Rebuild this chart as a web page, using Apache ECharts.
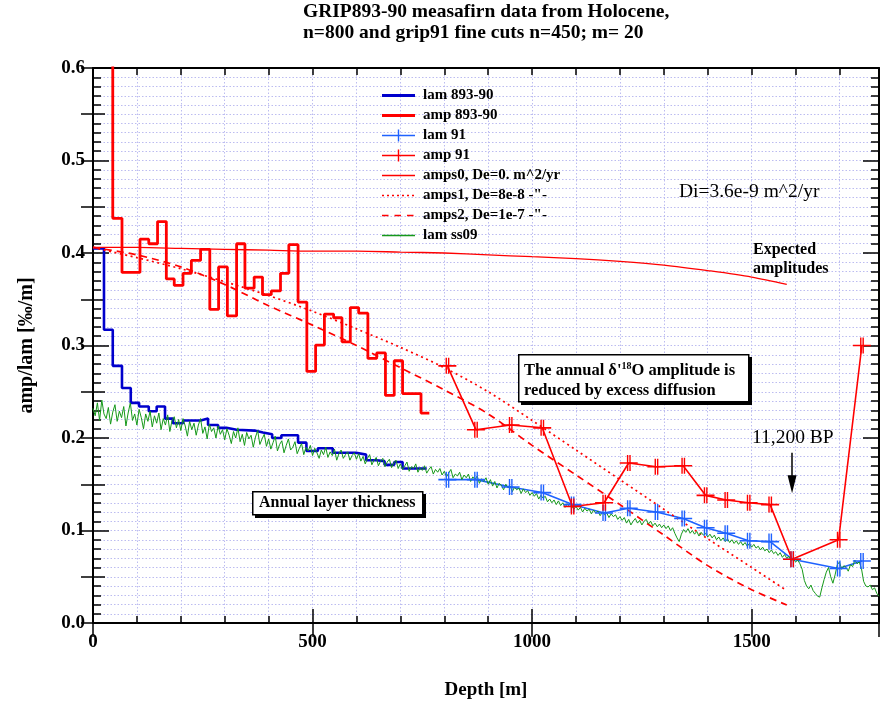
<!DOCTYPE html>
<html><head><meta charset="utf-8">
<script src="https://cdn.jsdelivr.net/npm/echarts@6/dist/echarts.min.js"></script>
<style>html,body{margin:0;padding:0;background:#fff}#c{width:882px;height:705px}</style>
</head><body><div id="c"></div>
<script>
// ---------------- DATA ----------------
const titleLines = ['GRIP893-90 measafirn data from Holocene,', 'n=800 and grip91 fine cuts n=450; m= 20'];
const xAxisName = 'Depth [m]';
const yAxisName = 'amp/lam [‰/m]';
const xTickLabels = [0, 500, 1000, 1500];

// lam 893-90 (step, value holds from depth to next depth)
const lam89Depth = [0,25,45,66,86,105,127,145,164,182,205,245,262,285,304,327,368,387,408,429,467,486,512,546,599,622,645,664,686,705,760];
const lam89Value = [0.405,0.317,0.278,0.254,0.238,0.234,0.229,0.234,0.221,0.216,0.219,0.221,0.214,0.211,0.209,0.208,0.206,0.204,0.200,0.203,0.195,0.186,0.189,0.184,0.182,0.176,0.175,0.171,0.174,0.167,0.167];

// amp 893-90 (step)
const amp89Depth = [25,45,66,107,127,147,167,185,205,224,245,266,286,306,327,346,367,386,406,427,446,467,487,507,527,548,567,586,605,626,646,666,686,705,747,766];
const amp89Value = [0.95,0.4375,0.379,0.415,0.41,0.434,0.372,0.365,0.378,0.392,0.404,0.339,0.385,0.332,0.41,0.362,0.374,0.355,0.359,0.378,0.409,0.347,0.272,0.3005,0.334,0.330,0.304,0.341,0.335,0.286,0.292,0.246,0.2835,0.248,0.227,0.227];

// grip91 fine cuts
const grip91Depth = [807,872,951,1023,1092,1164,1220,1283,1344,1395,1442,1493,1542,1592,1698,1751];
const lam91Value  = [0.155,0.155,0.147,0.141,0.128,0.119,0.124,0.120,0.113,0.103,0.097,0.089,0.088,0.069,0.059,0.067];
const amp91Value  = [0.278,0.209,0.214,0.211,0.126,0.130,0.173,0.169,0.170,0.138,0.133,0.130,0.128,0.069,0.090,0.300];

// modelled amplitudes
const ampsDepth = [0,100,200,300,400,500,600,700,800,900,1000,1100,1200,1300,1400,1500,1580];
const amps0 = [0.406,0.406,0.405,0.404,0.403,0.402,0.402,0.401,0.400,0.398,0.396,0.394,0.391,0.387,0.381,0.374,0.366];
const amps1 = [0.406,0.395,0.383,0.369,0.354,0.337,0.318,0.298,0.276,0.250,0.219,0.187,0.155,0.123,0.091,0.060,0.035];
const amps2 = [0.406,0.398,0.385,0.366,0.343,0.322,0.300,0.276,0.252,0.226,0.192,0.160,0.128,0.095,0.062,0.036,0.0195];

// lam ss09, sampled every 5 m from 0 m
const ss09Step = 5;
const ss09Value = [
0.232,0.224,0.238,0.219,0.241,0.226,0.221,0.233,0.215,0.228,0.236,0.218,0.229,0.222,0.234,0.213,0.227,0.238,0.219,0.226,
0.214,0.231,0.222,0.210,0.226,0.218,0.229,0.212,0.224,0.216,0.227,0.209,0.221,0.214,0.225,0.207,0.219,0.223,0.211,0.220,
0.208,0.221,0.213,0.202,0.218,0.209,0.216,0.203,0.214,0.221,0.205,0.212,0.199,0.215,0.207,0.211,0.200,0.213,0.204,0.209,
0.198,0.210,0.203,0.194,0.207,0.200,0.211,0.196,0.204,0.192,0.206,0.199,0.203,0.190,0.201,0.208,0.193,0.199,0.204,0.191,
0.199,0.188,0.195,0.202,0.186,0.193,0.197,0.184,0.192,0.199,0.187,0.190,0.196,0.183,0.189,0.194,0.182,0.190,0.186,0.192,
0.181,0.189,0.184,0.178,0.187,0.182,0.190,0.179,0.185,0.181,0.188,0.176,0.183,0.187,0.178,0.182,0.185,0.176,0.181,0.184,
0.177,0.183,0.175,0.180,0.172,0.178,0.182,0.171,0.176,0.179,0.170,0.175,0.178,0.169,0.174,0.177,0.168,0.173,0.176,0.167,
0.172,0.166,0.170,0.174,0.164,0.169,0.167,0.172,0.163,0.168,0.165,0.170,0.162,0.166,0.169,0.161,0.166,0.163,0.167,0.160,
0.164,0.158,0.162,0.166,0.157,0.161,0.159,0.163,0.155,0.160,0.157,0.161,0.153,0.158,0.155,0.159,0.151,0.156,0.153,0.157,
0.150,0.155,0.148,0.153,0.146,0.151,0.149,0.144,0.150,0.146,0.148,0.142,0.147,0.144,0.146,0.140,0.145,0.141,0.143,0.138,
0.141,0.137,0.140,0.134,0.138,0.135,0.137,0.131,0.134,0.130,0.133,0.128,0.132,0.127,0.130,0.125,0.129,0.126,0.127,0.123,
0.126,0.122,0.125,0.120,0.124,0.121,0.123,0.118,0.122,0.119,0.121,0.116,0.120,0.117,0.119,0.114,0.118,0.115,0.117,0.112,
0.115,0.111,0.114,0.108,0.112,0.106,0.110,0.113,0.108,0.111,0.106,0.110,0.112,0.107,0.110,0.105,0.108,0.104,0.107,0.103,
0.106,0.102,0.105,0.100,0.103,0.097,0.092,0.088,0.096,0.101,0.098,0.102,0.097,0.100,0.096,0.099,0.094,0.098,0.095,0.097,
0.093,0.096,0.092,0.095,0.090,0.093,0.089,0.092,0.088,0.091,0.087,0.090,0.086,0.089,0.085,0.088,0.084,0.087,0.083,0.086,
0.082,0.085,0.081,0.083,0.079,0.082,0.078,0.080,0.076,0.079,0.075,0.077,0.073,0.076,0.071,0.074,0.070,0.072,0.067,0.069,
0.066,0.068,0.064,0.058,0.046,0.040,0.037,0.041,0.035,0.032,0.029,0.028,0.038,0.047,0.055,0.060,0.050,0.043,0.052,0.063,
0.066,0.058,0.062,0.060,0.056,0.063,0.061,0.068,0.064,0.066,0.059,0.045,0.040,0.039,0.041,0.036,0.038,0.032,0.029
];

const seriesNames = ['lam 893-90','amp 893-90','lam 91','amp 91','amps0, De=0. m^2/yr','amps1, De=8e-8 -"-','amps2, De=1e-7 -"-','lam ss09'];
const arrowDepth = 1592;
const arrowFrom = 0.184, arrowTo = 0.150;

// ---------------- STYLE / BUILD ----------------
const SERIF = '"Liberation Serif","Times New Roman",serif';
const C = {darkBlue:'#0000cc', red:'#ff0000', blue:'#1f62ff', green:'#16991a', grid:'#bcbcf0'};
const seriesColors = [C.darkBlue, C.red, C.blue, C.red, C.red, C.red, C.red, C.green];
const X_MAX = 1790;
const pairs = (xs, ys) => xs.map((x, i) => [x, ys[i]]);
const ss09Data = ss09Value.map((v, i) => [i * ss09Step, v]);

const CORNERS = 'M0,0L0,0Z M33,14L33,14Z ';
function solidIcon(h){ const y0 = 7 - h/2; return 'path://' + CORNERS + 'M0,' + y0 + 'H33V' + (y0+h) + 'H0Z'; }
function patternIcon(dash, gap, h){
  let s = 'path://' + CORNERS;
  for (let x = 0; x < 33; x += dash + gap) s += 'M' + x + ',' + (7-h/2) + 'H' + Math.min(x+dash,33) + 'V' + (7+h/2) + 'H' + x + 'Z ';
  return s;
}
const plusIcon = solidIcon(1.4) + ' M15.8,1H17.2V13H15.8Z';
const legendIcons = [solidIcon(2.8), solidIcon(3), plusIcon, plusIcon, solidIcon(1.4), patternIcon(2,3,1.6), patternIcon(6.5,6,1.6), solidIcon(1.3)];
const plusSymbol = 'path://M0,7.2H18V8.8H0Z M7.2,0H8.6V16H7.2Z M9.6,0H11V16H9.6Z';

const bold = (size) => ({fontFamily: SERIF, fontWeight: 'bold', fontSize: size, color: '#000'});
const gridLine = {show: true, lineStyle: {color: C.grid, type: [1.5, 2], width: 1}};
const tickStyle = {color: '#000', width: 1.5};
const noShow = {show: false};

function xAx(pos, interval, len, main){
  return {type:'value', position:pos, min:0, max:X_MAX, interval:interval,
    axisLine: main ? {show:true, onZero:false, lineStyle:{color:'#000', width:2}} : noShow,
    axisTick: {show:true, inside:true, length:len, lineStyle:tickStyle},
    axisLabel: (main && pos==='bottom') ? Object.assign({margin:10, formatter: v => (xTickLabels.indexOf(v) >= 0 ? String(v) : '')}, bold(19)) : noShow,
    splitLine: (main && pos==='bottom') ? gridLine : noShow,
    name: (main && pos==='bottom') ? xAxisName : '', nameLocation:'middle', nameGap:58, nameTextStyle: bold(19)};
}
function yAx(pos, interval, len, main){
  const o = {type:'value', position:pos, min:0, max:0.6, interval:interval,
    axisLine: main ? {show:true, onZero:false, lineStyle:{color:'#000', width:2}} : noShow,
    axisTick: {show:true, inside:true, length:len, lineStyle:tickStyle},
    axisLabel: (main && pos==='left') ? Object.assign({margin:8, formatter: v => v.toFixed(1)}, bold(19)) : noShow,
    splitLine: (main && pos==='left') ? gridLine : noShow,
    name: (main && pos==='left') ? yAxisName : '', nameLocation:'middle', nameGap:56, nameTextStyle: bold(20)};
  if (main) {
    o.minorTick = {show:true, splitNumber:10, length:8, lineStyle:tickStyle};
    if (pos === 'left') o.minorSplitLine = gridLine;
  }
  return o;
}

function lineSeries(i, data, extra){
  return Object.assign({name:seriesNames[i], type:'line', data:data, symbol:'none', color:seriesColors[i],
    itemStyle:{color:seriesColors[i]}, emphasis:{disabled:true}}, extra);
}

const option = {
  animation: false,
  backgroundColor: '#fff',
  textStyle: {fontFamily: SERIF},
  title: {text: titleLines.join('\n'), left: 303, top: 1, padding: 0,
    textStyle: Object.assign({lineHeight: 21}, bold(19.5))},
  legend: {orient:'vertical', left:377, top:83, padding:5, itemWidth:33, itemHeight:14, itemGap:5,
    selectedMode:false, itemStyle:{borderWidth:0},
    textStyle: Object.assign({lineHeight:14, padding:[0,0,0,3]}, bold(15)),
    data: seriesNames.map((n, i) => ({name: n, icon: legendIcons[i], itemStyle:{color: seriesColors[i], borderWidth:0}}))},
  grid: {left:93, right:1, top:68, bottom:82},
  xAxis: [xAx('bottom',100,7,true), xAx('bottom',500,14,false), xAx('top',100,7,true), xAx('top',500,14,false)],
  yAxis: [yAx('left',0.1,16,true), yAx('left',0.05,12,false), yAx('right',0.1,16,true), yAx('right',0.05,12,false)],
  series: [
    lineSeries(0, pairs(lam89Depth, lam89Value), {step:'end', lineStyle:{width:2.6, color:C.darkBlue}}),
    lineSeries(1, pairs(amp89Depth, amp89Value), {step:'end', lineStyle:{width:2.8, color:C.red}}),
    lineSeries(2, pairs(grip91Depth, lam91Value), {symbol:plusSymbol, symbolSize:[18,16], lineStyle:{width:1.6, color:C.blue}}),
    lineSeries(3, pairs(grip91Depth, amp91Value), {symbol:plusSymbol, symbolSize:[18,16], lineStyle:{width:1.6, color:C.red},
      markLine:{silent:true, symbol:['none','triangle'], symbolSize:[9,18], label:{show:false},
        lineStyle:{color:'#000', width:1.5, type:'solid'}, emphasis:{disabled:true},
        data:[[{coord:[arrowDepth, arrowFrom]}, {coord:[arrowDepth, arrowTo]}]]}}),
    lineSeries(4, pairs(ampsDepth, amps0), {smooth:0.3, lineStyle:{width:1.3, color:C.red}}),
    lineSeries(5, pairs(ampsDepth, amps1), {smooth:0.3, lineStyle:{width:1.7, color:C.red, type:[2,3.5]}}),
    lineSeries(6, pairs(ampsDepth, amps2), {smooth:0.3, lineStyle:{width:1.7, color:C.red, type:[7,5]}}),
    lineSeries(7, ss09Data, {lineStyle:{width:1, color:C.green}})
  ],
  graphic: [
    {type:'rect', left:521, top:357, z:100, shape:{width:231, height:48}, style:{fill:'#000'}},
    {type:'rect', left:518, top:354, z:101, shape:{width:230, height:47}, style:{fill:'#fff', stroke:'#000', lineWidth:1.5}},
    {type:'text', left:524, top:361, z:102, style:{
      text:"The annual δ'{sup|18}O amplitude is\nreduced by excess diffusion",
      font:'bold 16.5px ' + SERIF, fill:'#000', lineHeight:20,
      rich:{sup:{fontSize:10, fontWeight:'bold', fontFamily:SERIF, verticalAlign:'top', lineHeight:10}}}},
    {type:'rect', left:255, top:494, z:100, shape:{width:171, height:24}, style:{fill:'#000'}},
    {type:'rect', left:252, top:491, z:101, shape:{width:170, height:23}, style:{fill:'#fff', stroke:'#000', lineWidth:1.5}},
    {type:'text', left:259, top:494, z:102, style:{text:'Annual layer thickness', font:'bold 16px ' + SERIF, fill:'#000', lineHeight:18}},
    {type:'text', left:753, top:241, z:102, style:{text:'Expected\namplitudes', font:'bold 16px ' + SERIF, fill:'#000', lineHeight:18.5}},
    {type:'text', left:679, top:182, z:102, style:{text:'Di=3.6e-9 m^2/yr', font:'19.5px ' + SERIF, fill:'#000'}},
    {type:'text', left:752, top:428, z:102, style:{text:'11,200 BP', font:'19.5px ' + SERIF, fill:'#000'}}
  ]
};

const chart = echarts.init(document.getElementById('c'), null, {renderer:'canvas'});
chart.setOption(option);
</script>
</body></html>
